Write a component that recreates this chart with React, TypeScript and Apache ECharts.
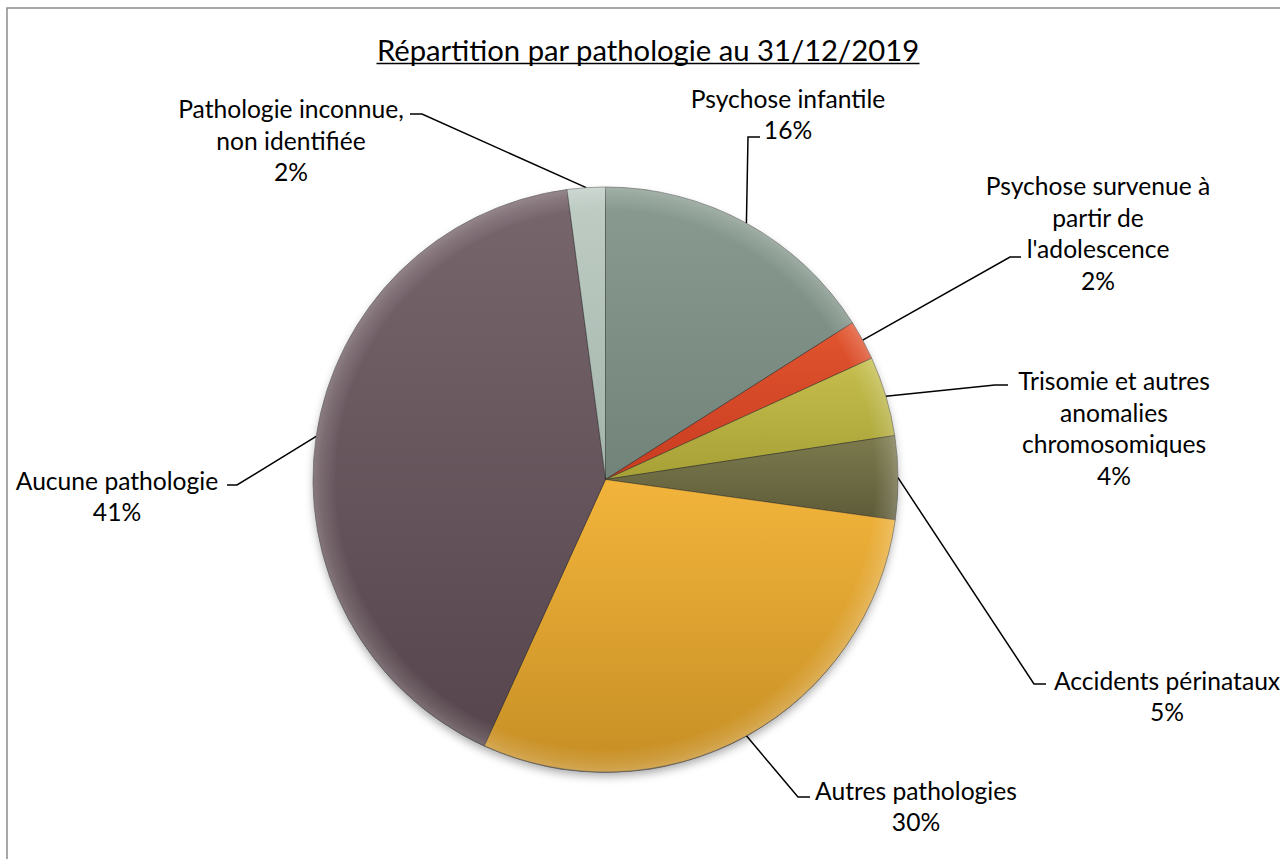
import React, { useEffect, useRef } from "react";
import * as echarts from "echarts";

const TITLE = "Répartition par pathologie au 31/12/2019";

const categories = [
  "Psychose infantile",
  "Psychose survenue à partir de l'adolescence",
  "Trisomie et autres anomalies chromosomiques",
  "Accidents périnataux",
  "Autres pathologies",
  "Aucune pathologie",
  "Pathologie inconnue, non identifiée",
];

const labelLines = [
  "Psychose infantile",
  "Psychose survenue à\npartir de\nl'adolescence",
  "Trisomie et autres\nanomalies\nchromosomiques",
  "Accidents périnataux",
  "Autres pathologies",
  "Aucune pathologie",
  "Pathologie inconnue,\nnon identifiée",
];

const values = [16.0, 2.2, 4.4, 4.6, 29.6, 41.1, 2.1];

const topColors = ["#8a9c91", "#e2552f", "#c6bf4e", "#7c7a4d", "#f2b43b", "#78666d", "#bfcdc5"];
const bottomColors = ["#72847a", "#c83b20", "#a6a036", "#5e5c39", "#c68e24", "#56454c", "#a4b4ab"];

// label block centres and leader elbows (layout only)
const labelPlace = [
  { x: 788, y: 114, elbow: [748, 137], end: [760, 137] },
  { x: 1098, y: 233, elbow: [1010, 257], end: [1021, 257] },
  { x: 1114, y: 428, elbow: [995, 385], end: [1008, 385] },
  { x: 1167, y: 696, elbow: [1034, 684], end: [1046, 684] },
  { x: 916, y: 806, elbow: [798, 797], end: [810, 797] },
  { x: 117, y: 496, elbow: [237, 485], end: [227, 485] },
  { x: 291, y: 140, elbow: [422, 114], end: [410, 114] },
];

const CX = 605.5;
const CY = 479.5;
const R = 292.5;

function measure(text: string, family: string): number {
  const c = document.createElement("canvas");
  const ctx = c.getContext("2d");
  if (!ctx) return text.length * 50;
  ctx.font = `100px ${family}`;
  return ctx.measureText(text).width;
}

export default function App() {
  const ref = useRef<HTMLDivElement>(null);
  useEffect(() => {
    if (!ref.current) return;
    const chart = echarts.init(ref.current, null, { renderer: "svg" });
    const family = "Lato";
    const labelSize = (202 / measure("Autres pathologies", family)) * 100;
    const titleW = 543;
    const titleSize = (titleW / measure(TITLE, family)) * 100;
    const TX = 648;

    const total = values.reduce((a, b) => a + b, 0);
    const data = categories.map((name, i) => ({
      name,
      value: values[i],
      itemStyle: {
        color: new echarts.graphic.LinearGradient(0, 0, 0, 1, [
          { offset: 0, color: topColors[i] },
          { offset: 1, color: bottomColors[i] },
        ]),
      },
    }));

    chart.setOption({
      animation: false,
      backgroundColor: "#ffffff",
      graphic: [
        {
          type: "rect",
          z: 0,
          shape: { x: 7, y: 8, width: 1300, height: 900 },
          style: { fill: "none", stroke: "#8c8c8c", lineWidth: 1.5 },
        },
        {
          type: "circle",
          z: 0,
          shape: { cx: CX, cy: CY + 2, r: R - 1 },
          style: {
            fill: "#777",
            shadowBlur: 10,
            shadowOffsetY: 3,
            shadowColor: "rgba(0,0,0,0.35)",
          },
        },
        {
          type: "ring",
          z: 50,
          silent: true,
          shape: { cx: CX, cy: CY, r: R, r0: R - 22 },
          style: {
            fill: new echarts.graphic.RadialGradient(
              CX, CY, R,
              [
                { offset: 0.92, color: "rgba(255,255,255,0)" },
                { offset: 0.975, color: "rgba(255,255,255,0.13)" },
                { offset: 1, color: "rgba(255,255,255,0.22)" },
              ],
              true
            ),
          },
        },
        {
          type: "text",
          z: 60,
          style: {
            text: TITLE,
            x: TX,
            y: 49,
            align: "center",
            verticalAlign: "middle",
            font: `${titleSize.toFixed(2)}px ${family}`,
            fill: "#000000",
          },
        },
        {
          type: "line",
          z: 60,
          shape: { x1: TX - titleW / 2, y1: 63.5, x2: TX + titleW / 2, y2: 63.5 },
          style: { stroke: "#000000", lineWidth: 1.5 },
        },
      ],
      series: [
        {
          type: "pie",
          z: 5,
          center: [CX, CY],
          radius: R,
          startAngle: 90,
          clockwise: true,
          avoidLabelOverlap: false,
          data,
          itemStyle: {
            borderColor: "rgba(40,40,40,0.45)",
            borderWidth: 1,
          },
          emphasis: { disabled: true },
          label: {
            show: true,
            position: "outside",
            formatter: (p: any) =>
              `${labelLines[p.dataIndex]}\n${Math.round((p.value / total) * 100)}%`,
            fontFamily: family,
            fontSize: labelSize,
            lineHeight: 31.5,
            color: "#000000",
            align: "center",
          },
          labelLine: {
            show: true,
            length: 20,
            length2: 10,
            smooth: false,
            lineStyle: { color: "#000000", width: 1.5 },
          },
          labelLayout: (params: any) => {
            const i = params.dataIndex;
            const L = labelPlace[i];
            let p0: number[];
            if (params.labelLinePoints && params.labelLinePoints[0]) {
              p0 = params.labelLinePoints[0];
            } else {
              let cum = 0;
              for (let k = 0; k < i; k++) cum += values[k];
              const a = ((cum + values[i] / 2) / total) * Math.PI * 2;
              p0 = [CX + R * Math.sin(a), CY - R * Math.cos(a)];
            }
            return {
              x: L.x,
              y: L.y,
              align: "center",
              verticalAlign: "middle",
              labelLinePoints: [p0, L.elbow, L.end],
            };
          },
        },
      ],
    });
    return () => chart.dispose();
  }, []);
  return (
    <div
      ref={ref}
      style={{ position: "absolute", left: 0, top: 0, width: 1280, height: 859 }}
    />
  );
}
